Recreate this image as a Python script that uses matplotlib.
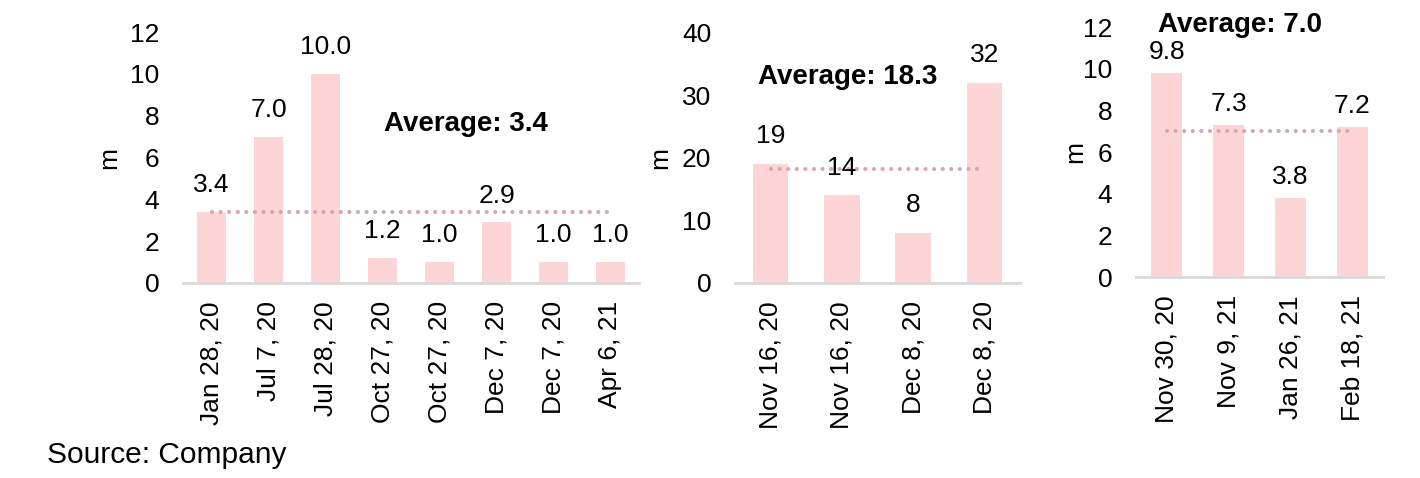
import matplotlib.pyplot as plt
import numpy as np

plt.rcParams['font.family'] = ['Liberation Sans', 'DejaVu Sans']

# panel 1
dates1 = ['Jan 28, 20', 'Jul 7, 20', 'Jul 28, 20', 'Oct 27, 20', 'Oct 27, 20',
          'Dec 7, 20', 'Dec 7, 20', 'Apr 6, 21']
vals1 = [3.4, 7.0, 10.0, 1.2, 1.0, 2.9, 1.0, 1.0]
avg1 = 3.4

# panel 2
dates2 = ['Nov 16, 20', 'Nov 16, 20', 'Dec 8, 20', 'Dec 8, 20']
vals2 = [19, 14, 8, 32]
avg2 = 18.3

# panel 3
dates3 = ['Nov 30, 20', 'Nov 9, 21', 'Jan 26, 21', 'Feb 18, 21']
vals3 = [9.8, 7.3, 3.8, 7.2]
avg3 = 7.0

BAR = '#fdd5d6'
DOT = '#d6a7ac'
FS = 19

fig = plt.figure(figsize=(14.2, 4.78), dpi=100)


def panel(rect, labels, vals, avg, ymax, ystep, fmt, lab_off, avg_xy, ylab_dx):
    ax = fig.add_axes(rect)
    x = np.arange(len(vals))
    ax.bar(x, vals, width=0.5, color=BAR, zorder=1)
    # dotted average line, from first bar to last bar
    ax.plot([x[0], x[-1]], [avg, avg], color=DOT, lw=3.0,
            linestyle=(0, (0.01, 2.05)), dash_capstyle='round', zorder=2)
    for xi, v in zip(x, vals):
        ax.annotate(fmt.format(v), (xi, v), xytext=(0, lab_off),
                    textcoords='offset points', ha='center', va='bottom',
                    fontsize=FS)
    ax.text(avg_xy[0], avg_xy[1], 'Average: ' + '{:.1f}'.format(avg),
            ha='center', va='center', fontsize=20, fontweight='bold',
            clip_on=False)
    ax.set_xlim(-0.5, len(vals) - 0.5)
    ax.set_ylim(0, ymax)
    ax.set_yticks(np.arange(0, ymax + 1, ystep))
    ax.set_xticks(x)
    ax.set_xticklabels(labels, rotation=90, fontsize=FS)
    ax.tick_params(axis='both', length=0, labelsize=FS)
    ax.tick_params(axis='y', pad=17)
    ax.tick_params(axis='x', pad=13)
    for s in ['top', 'right', 'left']:
        ax.spines[s].set_visible(False)
    ax.spines['bottom'].set_color('#d9d9d9')
    ax.spines['bottom'].set_linewidth(2)
    ax.set_ylabel('m', fontsize=FS)
    ax.yaxis.set_label_coords(ylab_dx, 0.5)
    return ax


panel([183 / 1420, 0.408, 456 / 1420, 0.525], dates1, vals1, avg1, 12, 2,
      '{:.1f}', 10.5, (4.46, 7.6), -62 / 456)
panel([735 / 1420, 0.408, 285 / 1420, 0.523], dates2, vals2, avg2, 40, 10,
      '{:d}', 11.5, (1.08, 33), -63 / 285)
panel([1136 / 1420, 0.4205, 247 / 1420, 0.523], dates3, vals3, avg3, 12, 2,
      '{:.1f}', 6.5, (1.19, 12.1), -49 / 247)

fig.text(47 / 1420, 1 - 455 / 478, 'Source: Company', fontsize=21.5,
         ha='left', va='center')

fig.savefig('out.png', dpi=100)
